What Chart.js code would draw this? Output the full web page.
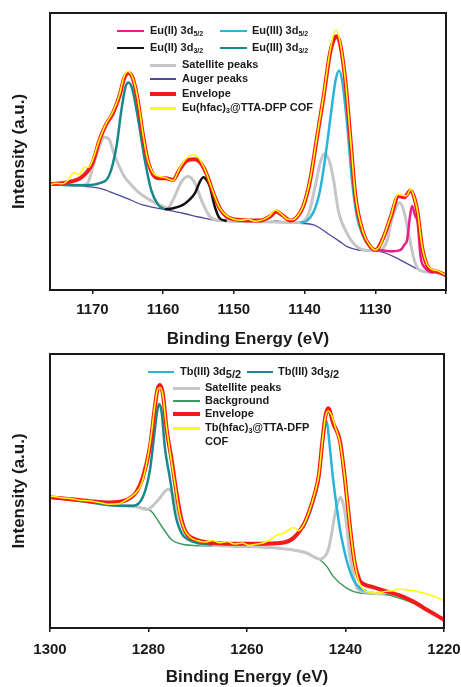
<!DOCTYPE html>
<html>
<head>
<meta charset="utf-8">
<script src="https://cdn.jsdelivr.net/npm/chart.js@4.4.1/dist/chart.umd.min.js"></script>
<style>
html,body{margin:0;padding:0;background:#fff;}
body{width:461px;height:687px;position:relative;overflow:hidden;font-family:"Liberation Sans",Arial,sans-serif;}
canvas{position:absolute;left:0;}
#c1{top:0;}
#c2{top:344px;}
.sw{position:absolute;}
.lt{position:absolute;font-weight:bold;font-size:11px;line-height:13px;color:#1a1a1a;white-space:nowrap;}
.s1{font-size:7px;position:relative;top:2px;}
.s2{position:relative;top:3px;}
</style>
</head>
<body>
<canvas id="c1" width="461" height="352"></canvas>
<canvas id="c2" width="461" height="343"></canvas>
<div id="legend"></div>
<script>
// ---------- Eu 3d spectrum (binding energy eV, intensity a.u.) ----------
const euTicks = [1170, 1160, 1150, 1140, 1130, 1120];
const euData = [[1176.1,314],[1175.2,320],[1174.3,318],[1173.5,328],[1172.6,352],[1171.9,346],[1171.1,368],[1170.5,368],[1170,388],[1169,452],[1168.1,498],[1167.1,534],[1166.2,584],[1165.5,642],[1165,655],[1164.4,642],[1163.6,574],[1162.9,474],[1162.2,392],[1161.4,350],[1160.5,340],[1159.6,336],[1158.6,328],[1157.7,364],[1156.7,395],[1155.8,405],[1155,396],[1154,356],[1152.9,292],[1152,246],[1151,222],[1150,212],[1149,209],[1148,212],[1147,206],[1146,210],[1145,221],[1144.1,240],[1143.3,228],[1142.4,212],[1141.7,211],[1141,222],[1140.2,252],[1139.2,332],[1138.3,452],[1137.3,584],[1136.4,716],[1135.6,778],[1135,746],[1134.2,622],[1133.5,452],[1132.8,282],[1131.7,172],[1130.7,132],[1130,120],[1129.4,130],[1128.8,160],[1127.8,222],[1126.8,286],[1126.2,284],[1125.6,282],[1125,302],[1124.5,278],[1124,232],[1123.4,132],[1122.7,78],[1122,62],[1121.2,58],[1120.5,50],[1120,45]];
const euEnvelope = [[1176.1,317],[1173.7,322],[1171.4,340],[1170,380],[1169,450],[1168.1,495],[1167.1,530],[1166.2,580],[1165.5,635],[1164.9,650],[1164.3,635],[1163.6,570],[1162.9,470],[1162.2,390],[1161.4,345],[1160.5,335],[1159.6,335],[1158.6,330],[1157.7,360],[1156.7,387],[1155.6,392],[1154.8,383],[1153.9,350],[1152.9,290],[1152,245],[1151,220],[1149.1,210],[1146.3,208],[1144.9,220],[1144,235],[1143.2,225],[1142,208],[1141.1,218],[1140.2,250],[1139.2,330],[1138.3,450],[1137.3,580],[1136.4,710],[1135.5,760],[1135,740],[1134.2,620],[1133.5,450],[1132.8,280],[1131.7,170],[1130.7,130],[1130,120],[1128.8,160],[1127.8,220],[1126.7,282],[1125.9,278],[1125,298],[1124.4,270],[1124,230],[1123.4,130],[1122.7,75],[1122.1,60],[1121.2,55],[1120,44]];
const euIII32 = [[1176.1,317],[1173,314],[1170.9,314],[1169,320],[1167.6,345],[1166.6,430],[1165.9,540],[1165.3,610],[1164.9,622],[1164.4,605],[1163.6,520],[1162.6,390],[1161.7,300],[1160.7,255],[1159.8,242]];
const euIII52 = [[1140.6,202],[1139.7,207],[1138.7,235],[1137.9,290],[1137.4,350],[1136.8,440],[1136.2,540],[1135.6,630],[1135.1,658],[1134.6,615],[1134,500],[1133.3,330],[1132.6,220],[1131.7,160],[1130.7,128],[1130,120]];
const euII52 = [[1130,120],[1128.8,118],[1127.5,116],[1126.4,120],[1125.9,135],[1125.5,150],[1125.1,220],[1124.8,252],[1124.4,225],[1124,200],[1123.6,100],[1122.9,65],[1122.3,55],[1121.7,52]];
const euII32 = [[1159.8,242],[1158.6,245],[1157.2,255],[1156.3,270],[1155.5,290],[1154.8,325],[1154.3,338],[1153.8,328],[1153.4,310],[1152.7,250],[1152,215],[1151,207]];
const euSatellite = [[1176.1,317],[1171.4,314],[1170.7,320],[1169.5,400],[1168.3,458],[1167.6,450],[1166.9,405],[1166.2,370],[1165.5,340],[1164.3,310],[1163.6,295],[1161.9,270],[1160,250],[1159.4,245],[1158.6,270],[1157.4,325],[1156.5,340],[1155.5,320],[1154.6,270],[1153.4,220],[1152,208],[1147.7,205],[1140.6,202],[1139.4,230],[1138.5,310],[1137.8,380],[1137.2,408],[1136.4,380],[1135.9,330],[1135.2,235],[1134,170],[1133.1,140],[1131.6,120],[1129.8,118],[1128.3,150],[1127.8,200],[1127.2,240],[1126.6,262],[1126,240],[1125.2,160],[1124.5,90],[1124,65],[1123,55],[1122.1,52]];
const euAuger = [[1176.1,317],[1170,308],[1168.7,303],[1167.6,295],[1165.2,275],[1162.9,255],[1161.9,250],[1160,242],[1157.2,230],[1154.8,218],[1152.5,208],[1150.1,205],[1145.4,203],[1144,207],[1143,204],[1140.6,200],[1138.7,195],[1136.4,165],[1135,145],[1134,130],[1131.6,118],[1129.3,115],[1126.9,95],[1124.5,68],[1123.1,55],[1121.7,52],[1120,48]];

// ---------- Tb 3d spectrum ----------
const tbTicks = [1300, 1280, 1260, 1240, 1220];
const tbData = [[1300,396],[1298,392],[1296,389],[1294,384],[1292,382],[1290,377],[1288,372],[1286,373],[1284.5,385],[1283,400],[1281.5,430],[1280.3,500],[1279.4,585],[1278.7,670],[1278.1,718],[1277.6,722],[1277.1,700],[1276.4,610],[1275.5,515],[1274.6,430],[1273.7,345],[1272.7,295],[1271.5,272],[1270,262],[1268.5,258],[1267,263],[1265.5,256],[1264,260],[1262.5,252],[1261,255],[1259.5,248],[1258,252],[1256.5,257],[1255,268],[1253.8,280],[1252.5,285],[1251.2,298],[1250.4,302],[1249.6,292],[1248.7,305],[1247.5,345],[1246.3,402],[1245.4,462],[1244.7,560],[1244.1,632],[1243.5,652],[1242.8,638],[1242,600],[1241.1,555],[1240.1,445],[1239.1,305],[1238.2,200],[1237.3,140],[1236.3,115],[1235,108],[1233.5,104],[1232,110],[1230.5,112],[1229,117],[1227.5,114],[1226,112],[1224.5,106],[1223,100],[1221.5,92],[1220,82]];
const tbEnvelope = [[1300,393],[1293.2,383],[1287.8,377],[1284.4,385],[1282.4,410],[1281.1,455],[1279.7,545],[1278.7,665],[1278.2,715],[1277.7,730],[1277.1,705],[1276.3,595],[1275.3,505],[1274.3,405],[1273.3,325],[1272.3,285],[1270.2,265],[1266.8,255],[1262.8,253],[1257.4,253],[1253.3,255],[1250.6,270],[1248.6,308],[1247.5,345],[1246.3,400],[1245.4,460],[1244.7,560],[1244.1,635],[1243.5,660],[1242.5,615],[1241.1,560],[1240.1,445],[1239.1,305],[1238.2,200],[1237.2,145],[1236.7,135],[1234.4,123],[1231.7,110],[1229,98],[1226.3,80],[1223.5,55],[1220,25]];
const tbIII32 = [[1300,393],[1293.2,381],[1286.8,368],[1283.1,367],[1281.1,395],[1279.7,475],[1278.8,585],[1278.2,655],[1277.8,673],[1277.3,645],[1276.7,545],[1275.6,445],[1274.6,345],[1273.3,285],[1271.9,265],[1270,255],[1267,250]];
const tbIII52 = [[1248.6,300],[1247.5,335],[1246.3,390],[1245.4,450],[1244.7,550],[1244.1,610],[1243.8,620],[1243.3,560],[1242.5,445],[1241.8,365],[1241.1,295],[1239.8,205],[1238.4,145],[1237.1,120],[1235.7,110]];
const tbSatellite = [[1300,393],[1293.2,381],[1286.8,368],[1283,366],[1281.7,361],[1280.3,356],[1278,385],[1276,417],[1275,400],[1274,345],[1272.6,285],[1271.2,268],[1269.6,252],[1262,246],[1252.6,238],[1248,226],[1245.2,207],[1244.2,215],[1243.5,235],[1242.8,285],[1242.1,345],[1241.5,380],[1241,392],[1240.5,375],[1240.1,345],[1239.6,285],[1239.1,215],[1238.4,160],[1237.8,125],[1236.7,110],[1235,106],[1232,102]];
const tbBackground = [[1300,393],[1293.2,380],[1286.8,367],[1281.7,362],[1279.4,350],[1277.3,305],[1275.3,265],[1272.6,250],[1270.9,248],[1262.8,245],[1252.6,237],[1248,225],[1245.2,205],[1243.8,185],[1242.5,155],[1239.8,120],[1237.1,105],[1231.7,100],[1226.3,75],[1223.5,55],[1220,27]];

const toXY = a => a.map(p => ({x: p[0], y: p[1]}));
function line(arr, color, width) {
  return {data: toXY(arr), borderColor: color, borderWidth: width, pointRadius: 0,
          fill: false, cubicInterpolationMode: 'monotone'};
}

const frame = {
  id: 'frame',
  afterDatasetsDraw(chart) {
    const {ctx, chartArea: a} = chart;
    ctx.save();
    ctx.strokeStyle = '#1a1a1a';
    ctx.lineWidth = 2;
    ctx.strokeRect(a.left, a.top, a.right - a.left, a.bottom - a.top);
    ctx.restore();
  }
};

function makeChart(id, datasets, cfg) {
  const font = {family: '"Liberation Sans", Arial, sans-serif', weight: 'bold'};
  return new Chart(document.getElementById(id), {
    type: 'line',
    data: {datasets},
    plugins: [frame],
    options: {
      responsive: false, animation: false, devicePixelRatio: 1,
      layout: {padding: {top: cfg.padTop, right: cfg.padRight, left: 0, bottom: 0}},
      plugins: {legend: {display: false}, tooltip: {enabled: false}},
      scales: {
        x: {
          type: 'linear', reverse: true, min: cfg.min, max: cfg.max,
          afterBuildTicks: s => { s.ticks = cfg.ticks.map(v => ({value: v})); },
          ticks: {
            font: {...font, size: 15}, color: '#1a1a1a', padding: cfg.tickPad,
            maxRotation: 0, autoSkip: false,
            callback: v => (cfg.hide.includes(v) ? '' : String(v))
          },
          grid: {drawOnChartArea: false, drawTicks: true, tickLength: 4, color: '#1a1a1a', lineWidth: 1.5},
          border: {display: false},
          title: {display: true, text: 'Binding Energy (eV)', color: '#1a1a1a',
                  font: {...font, size: 17, lineHeight: 1}, padding: {top: 0, bottom: cfg.titlePad}},
          afterFit: s => { s.height = cfg.xHeight; s.paddingLeft = 0; s.paddingRight = 0; }
        },
        y: {
          min: 0, max: cfg.ymax,
          ticks: {display: false},
          grid: {display: false},
          border: {display: false},
          title: {display: true, text: 'Intensity (a.u.)', color: '#1a1a1a',
                  font: {...font, size: 17, lineHeight: 1}, padding: {top: 11, bottom: 0}},
          afterFit: s => { s.width = 50; s.paddingTop = 0; s.paddingBottom = 0; }
        }
      }
    }
  });
}

makeChart('c1', [
  line(euData, '#ffff00', 1.5),
  line(euEnvelope, '#f41a1a', 4),
  line(euIII32, '#17898b', 2.5),
  line(euIII52, '#2ab4d9', 2.5),
  line(euII52, '#ec1b8a', 2.5),
  line(euII32, '#111111', 2.5),
  line(euSatellite, '#c6c6c6', 3),
  line(euAuger, '#4d4a9d', 1.3)
], {min: 1120, max: 1176, ymax: 830, ticks: euTicks, hide: [1120],
    padTop: 13, padRight: 15, xHeight: 62, tickPad: 7, titlePad: 4.5});

makeChart('c2', [
  line(tbData, '#ffff00', 1.5),
  line(tbEnvelope, '#f41a1a', 4),
  line(tbIII32, '#17898b', 2.5),
  line(tbIII52, '#2ab4d9', 2.5),
  line(tbSatellite, '#c6c6c6', 3),
  line(tbBackground, '#3f9a5f', 1.5)
], {min: 1220, max: 1300, ymax: 823, ticks: tbTicks, hide: [],
    padTop: 10, padRight: 17, xHeight: 59, tickPad: 9, titlePad: 1.5});

// ---------- HTML legends ----------
const lg = document.getElementById('legend');
function item(x1, x2, y, tx, color, lw, html) {
  const s = document.createElement('div');
  s.className = 'sw';
  s.style.cssText = `left:${x1}px;top:${y - lw / 2}px;width:${x2 - x1}px;height:${lw}px;background:${color};`;
  lg.appendChild(s);
  if (html) {
    const t = document.createElement('div');
    t.className = 'lt';
    t.style.left = tx + 'px';
    t.style.top = (y - 7) + 'px';
    t.innerHTML = html;
    lg.appendChild(t);
  }
}
item(117, 144, 31, 150, '#ec1b8a', 2.5, 'Eu(II) 3d<span class="s1">5/2</span>');
item(220, 247, 31, 252, '#2ab4d9', 2.5, 'Eu(III) 3d<span class="s1">5/2</span>');
item(117, 144, 48, 150, '#111111', 2.5, 'Eu(II) 3d<span class="s1">3/2</span>');
item(220, 247, 48, 252, '#17898b', 2.5, 'Eu(III) 3d<span class="s1">3/2</span>');
item(150, 176, 65, 182, '#c6c6c6', 3, 'Satellite peaks');
item(150, 176, 79, 182, '#4d4a9d', 1.3, 'Auger peaks');
item(150, 176, 94, 182, '#f41a1a', 4, 'Envelope');
item(150, 176, 108, 182, '#ffff00', 3, 'Eu(hfac)<span class="s1">3</span>@TTA-DFP COF');

item(148, 174, 372, 180, '#2ab4d9', 2.5, 'Tb(III) 3d<span class="s2">5/2</span>');
item(247, 273, 372, 278, '#17898b', 2.5, 'Tb(III) 3d<span class="s2">3/2</span>');
item(173, 200, 388, 205, '#c6c6c6', 3, 'Satellite peaks');
item(173, 200, 401, 205, '#3f9a5f', 1.5, 'Background');
item(173, 200, 414, 205, '#f41a1a', 4, 'Envelope');
item(173, 200, 428, 205, '#ffff00', 3, 'Tb(hfac)<span class="s1">3</span>@TTA-DFP');
item(0, 0, 442, 205, 'transparent', 0, 'COF');
</script>
</body>
</html>
